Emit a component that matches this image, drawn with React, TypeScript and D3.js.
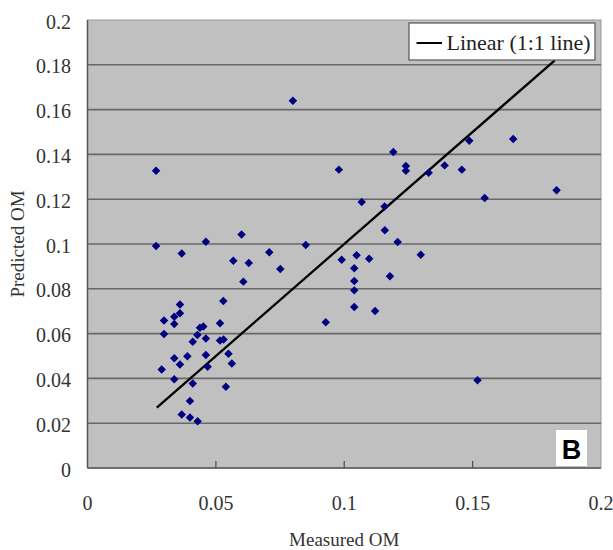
import React from "react";
import * as d3 from "d3";

const measured = [
  0.0267, 0.0267, 0.0461, 0.0367, 0.06, 0.0568, 0.0628, 0.0708, 0.0751, 0.0607,
  0.085, 0.036, 0.0529, 0.0298, 0.0338, 0.036, 0.0338, 0.0516, 0.0438, 0.0451,
  0.0298, 0.0428, 0.041, 0.0461, 0.0516, 0.053, 0.0338, 0.0389, 0.0461, 0.0549,
  0.036, 0.0562, 0.0289, 0.0468, 0.0338, 0.041, 0.0539, 0.0399, 0.0367, 0.0399,
  0.0429, 0.0928, 0.08, 0.1191, 0.0979, 0.124, 0.124, 0.1329, 0.1391, 0.1458,
  0.1487, 0.1658, 0.1827, 0.1068, 0.1157, 0.1547, 0.1158, 0.1208, 0.099, 0.1048,
  0.1097, 0.1298, 0.1039, 0.1039, 0.1039, 0.1178, 0.1039, 0.112, 0.1519,
];
const predicted = [
  0.1327, 0.0991, 0.101, 0.0958, 0.1042, 0.0925, 0.0915, 0.0963, 0.0888, 0.0832,
  0.0996, 0.073, 0.0746, 0.0659, 0.0675, 0.0691, 0.0643, 0.0646, 0.0626, 0.0632,
  0.0598, 0.0594, 0.0564, 0.0578, 0.0569, 0.0574, 0.049, 0.0499, 0.0504, 0.051,
  0.0462, 0.0467, 0.044, 0.0452, 0.0396, 0.0377, 0.0363, 0.0299, 0.0239, 0.0225,
  0.0209, 0.0651, 0.164, 0.1411, 0.1332, 0.1348, 0.1327, 0.1318, 0.1351, 0.1332,
  0.1461, 0.1469, 0.124, 0.1188, 0.1167, 0.1205, 0.1061, 0.1009, 0.093, 0.095,
  0.0934, 0.0952, 0.0892, 0.0835, 0.0793, 0.0856, 0.0719, 0.0701, 0.0392,
];
const lineX = [0.027, 0.182];
const xTicks = [0, 0.05, 0.1, 0.15, 0.2];
const yTicks = [0, 0.02, 0.04, 0.06, 0.08, 0.1, 0.12, 0.14, 0.16, 0.18, 0.2];
const xLabel = "Measured OM";
const yLabel = "Predicted OM";
const legendLabel = "Linear (1:1 line)";
const panelLabel = "B";

export default function App() {
  const W = 613, H = 550;
  const L = 87.5, R = 601, T = 20, B = 468;
  const x = d3.scaleLinear().domain([0, 0.2]).range([L, R]);
  const y = d3.scaleLinear().domain([0, 0.2]).range([B, T]);
  const sym = d3.symbol().type(d3.symbolSquare).size(36)();
  const line = d3.line<number>().x((d) => x(d)).y((d) => y(d))(lineX) || "";
  const fmt = (v: number) => (v === 0 ? "0" : String(+v.toFixed(2)));
  const serif = "'Liberation Serif', 'Times New Roman', serif";
  return (
    <svg width={W} height={H} style={{ position: "absolute", left: 0, top: 0, background: "#fff" }}>
      <rect x={L} y={T} width={R - L} height={B - T} fill="#c0c0c0" stroke="#999" strokeWidth={1} />
      {yTicks.slice(1, -1).map((t) => (
        <line key={t} x1={L} x2={R} y1={y(t)} y2={y(t)} stroke="#686868" strokeWidth={1.6} />
      ))}
      <line x1={L} x2={L} y1={T} y2={B} stroke="#555" strokeWidth={1.5} />
      <line x1={L} x2={R} y1={B} y2={B} stroke="#555" strokeWidth={1.5} />
      {xTicks.slice(1, -1).map((t) => (
        <line key={t} x1={x(t)} x2={x(t)} y1={B} y2={B - 7} stroke="#555" strokeWidth={1.3} />
      ))}
      {yTicks.map((t) => (
        <text key={t} x={71} y={y(t) + 1.5} textAnchor="end" dominantBaseline="central"
          fontFamily={serif} fontSize={20} fill="#333">{fmt(t)}</text>
      ))}
      {xTicks.map((t) => (
        <text key={t} x={x(t)} y={510} textAnchor="middle"
          fontFamily={serif} fontSize={20} fill="#333">{fmt(t)}</text>
      ))}
      <text x={(L + R) / 2} y={546} textAnchor="middle" fontFamily={serif} fontSize={19} fill="#333">{xLabel}</text>
      <text transform={`translate(24, ${(T + B) / 2}) rotate(-90)`} textAnchor="middle"
        fontFamily={serif} fontSize={19} fill="#333">{yLabel}</text>
      <path d={line} stroke="#000" strokeWidth={2.3} fill="none" />
      {measured.map((m, i) => (
        <path key={i} d={sym} transform={`translate(${x(m)},${y(predicted[i])}) rotate(45)`} fill="#000080" />
      ))}
      <rect x={409} y={23} width={186} height={37} fill="#fff" stroke="#555" strokeWidth={1.2} />
      <line x1={416.5} x2={442} y1={43} y2={43} stroke="#000" strokeWidth={2} />
      <text x={446.5} y={50} fontFamily={serif} fontSize={22} fill="#222">{legendLabel}</text>
      <rect x={556} y={430} width={31} height={36} fill="#fff" />
      <text x={571.5} y={459} textAnchor="middle" fontFamily="'Liberation Sans', Arial, sans-serif"
        fontWeight="bold" fontSize={27} fill="#000">{panelLabel}</text>
    </svg>
  );
}
